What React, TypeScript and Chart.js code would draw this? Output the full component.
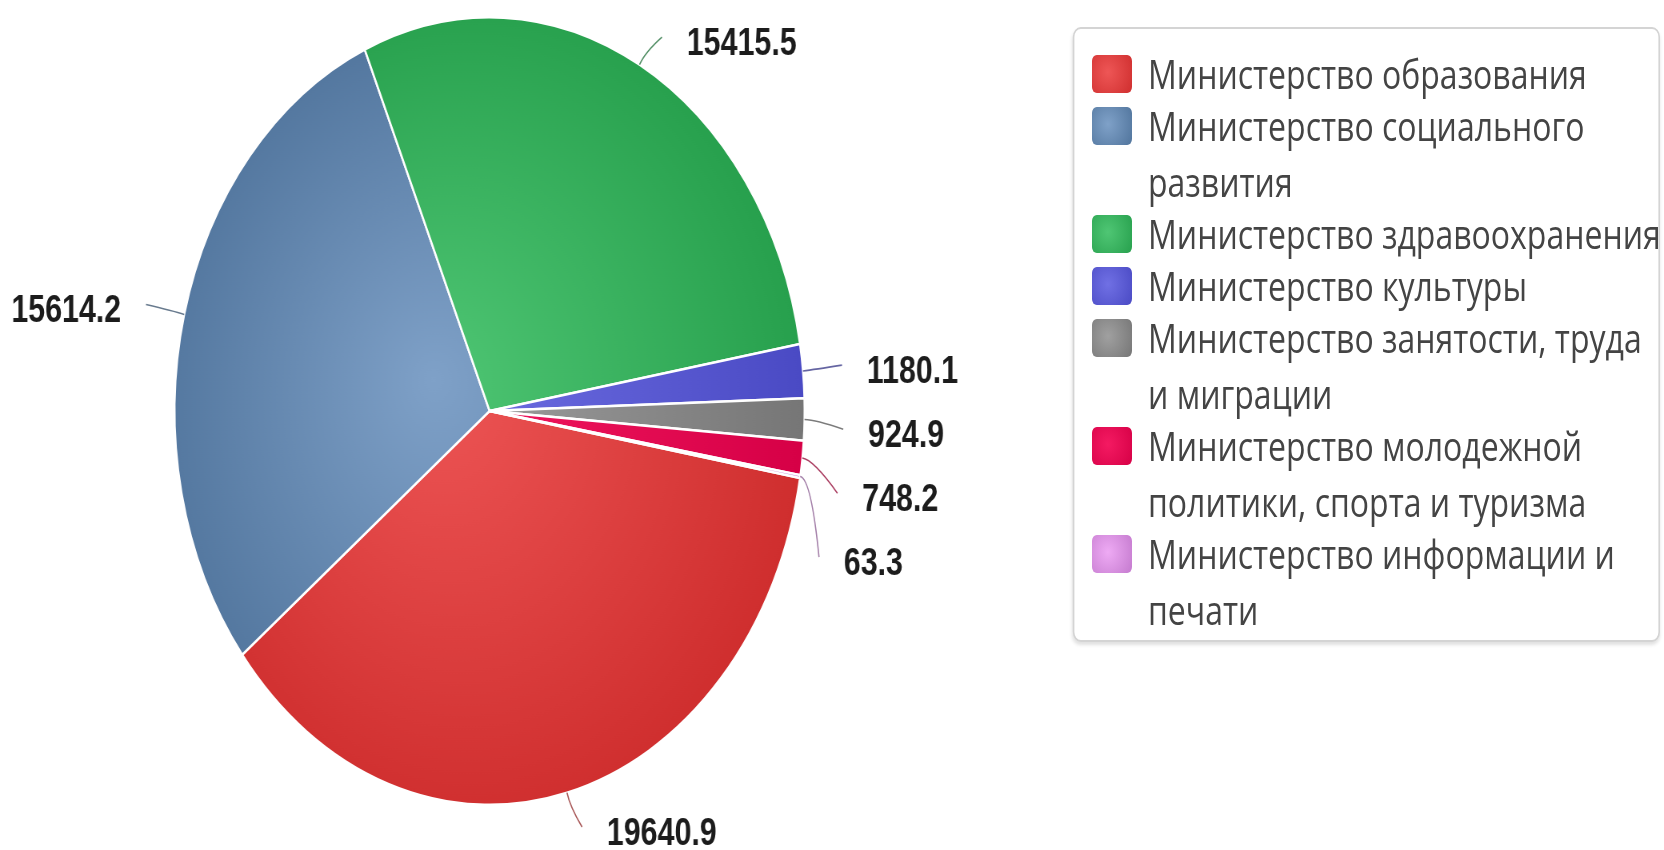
import React, { useEffect, useRef } from "react";
import { Chart, registerables } from "chart.js";

Chart.register(...registerables);

// ---- data ----
const legendLabels: string[] = [
  "Министерство образования",
  "Министерство социального\nразвития",
  "Министерство здравоохранения",
  "Министерство культуры",
  "Министерство занятости, труда\nи миграции",
  "Министерство молодежной\nполитики, спорта и туризма",
  "Министерство информации и\nпечати",
];
const categories: string[] = legendLabels.map((s) => s.replace("\n", " "));
const values: number[] = [19640.9, 15614.2, 15415.5, 1180.1, 924.9, 748.2, 63.3];
const lightColors: string[] = ["#ee5656", "#7fa1c8", "#4fc674", "#7070e4", "#a0a0a0", "#f41a62", "#eeaaf4"];
const darkColors: string[] = ["#cf2e2e", "#50749c", "#27a04d", "#4a4ac4", "#767676", "#d60046", "#c47ace"];

const SX = 0.8; // horizontal squeeze of the whole picture
const CANVAS_W = 1300;
const CANVAS_H = 850;

function mix(a: string, b: string, t: number): string {
  const pa = [1, 3, 5].map((k) => parseInt(a.slice(k, k + 2), 16));
  const pb = [1, 3, 5].map((k) => parseInt(b.slice(k, k + 2), 16));
  const m = pa.map((v, i) => Math.round(v * (1 - t) + pb[i] * t));
  return `rgb(${m[0]},${m[1]},${m[2]})`;
}

const outLabels = {
  id: "outLabels",
  afterDatasetsDraw(chart: any) {
    const meta = chart.getDatasetMeta(0);
    const ctx: CanvasRenderingContext2D = chart.ctx;
    const data = chart.data.datasets[0].data as number[];
    const items = meta.data.map((arc: any, i: number) => {
      const p = arc.getProps(["x", "y", "startAngle", "endAngle", "outerRadius"], true);
      const mid = (p.startAngle + p.endAngle) / 2;
      const cos = Math.cos(mid);
      const sin = Math.sin(mid);
      const ax = p.x + p.outerRadius * cos;
      const ay = p.y + p.outerRadius * sin;
      const D = 28 + 12 * Math.pow(Math.max(0, sin), 4);
      const idealY = p.y + (p.outerRadius + D) * sin + 4;
      return { i, cos, sin, ax, ay, idealY, labelY: idealY, right: cos >= 0 };
    });
    const gap = 64;
    const stack = (group: any[]) => {
      group.sort((a, b) => a.idealY - b.idealY);
      let prev = -Infinity;
      for (const it of group) {
        it.labelY = Math.max(it.idealY, prev + gap);
        prev = it.labelY;
      }
    };
    stack(items.filter((it: any) => it.right));
    stack(items.filter((it: any) => !it.right));

    ctx.save();
    ctx.font = "bold 38px 'Liberation Sans', Arial, sans-serif";
    ctx.textBaseline = "middle";
    for (const it of items) {
      const dir = it.right ? 1 : -1;
      const shift = it.labelY - it.idealY;
      const tx = it.ax + dir * (40 + 40 * Math.abs(it.cos)) - dir * 0.004 * shift * shift;
      const bx = it.ax + 14 * it.cos;
      const by = it.ay + 14 * it.sin;
      const ex = tx - dir * 31;
      const ey = it.labelY - 7;
      ctx.beginPath();
      ctx.moveTo(it.ax, it.ay);
      ctx.quadraticCurveTo(bx, by, ex, ey);
      ctx.strokeStyle = mix(darkColors[it.i], "#808080", 0.5);
      ctx.lineWidth = 1.6;
      ctx.stroke();
      ctx.fillStyle = "#1c1c1c";
      ctx.textAlign = it.right ? "left" : "right";
      ctx.fillText(data[it.i].toFixed(1), tx, it.labelY);
    }
    ctx.restore();
  },
};

function Legend() {
  return (
    <div
      style={{
        position: "absolute",
        left: 1341,
        top: 27,
        width: 734,
        height: 615,
        boxSizing: "border-box",
        border: "2px solid #d4d4d4",
        borderRadius: 10,
        boxShadow: "0 3px 4px rgba(0,0,0,0.12)",
        paddingTop: 17,
        fontFamily: "'Open Sans', sans-serif",
        fontSize: 40,
        color: "#444",
        background: "#fff",
      }}
    >
      {legendLabels.map((lab, i) => (
        <div
          key={i}
          style={{
            position: "relative",
            paddingLeft: 92,
            lineHeight: "56px",
            marginTop: i ? -4 : 0,
            whiteSpace: "pre",
          }}
        >
          <span
            style={{
              position: "absolute",
              left: 22,
              top: 9,
              width: 50,
              height: 38,
              borderRadius: 6,
              background: `radial-gradient(circle at 40% 45%, ${lightColors[i]} 0%, ${darkColors[i]} 100%)`,
            }}
          />
          {lab}
        </div>
      ))}
    </div>
  );
}

export default function App() {
  const ref = useRef<HTMLCanvasElement>(null);
  useEffect(() => {
    const canvas = ref.current!;
    const chart = new Chart(canvas, {
      type: "pie",
      data: {
        labels: categories,
        datasets: [
          {
            data: values,
            backgroundColor: (c: any) => {
              const ch = c.chart;
              const area = ch.chartArea;
              if (!area) return darkColors[c.dataIndex];
              const cx = (area.left + area.right) / 2;
              const cy = (area.top + area.bottom) / 2;
              const r = Math.min(area.width, area.height) / 2;
              const g = ch.ctx.createRadialGradient(cx - 0.18 * r, cy - 0.08 * r, 0, cx - 0.05 * r, cy, r * 1.05);
              g.addColorStop(0, lightColors[c.dataIndex]);
              g.addColorStop(1, darkColors[c.dataIndex]);
              return g;
            },
            borderColor: "#ffffff",
            borderWidth: 2.5,
          },
        ],
      },
      options: {
        responsive: false,
        animation: false,
        rotation: 99.8,
        layout: { padding: { top: 16, bottom: 44, left: 217, right: 293 } },
        plugins: {
          legend: { display: false },
          tooltip: { enabled: false },
        },
      },
      plugins: [outLabels],
    });
    return () => chart.destroy();
  }, []);

  return (
    <div
      style={{
        position: "absolute",
        left: 0,
        top: 0,
        width: 1664,
        height: 850,
        overflow: "hidden",
        background: "#fff",
      }}
    >
      <div
        style={{
          position: "absolute",
          left: 0,
          top: 0,
          width: 1664 / SX,
          height: 850,
          transform: `scaleX(${SX})`,
          transformOrigin: "0 0",
        }}
      >
        <canvas
          ref={ref}
          width={CANVAS_W}
          height={CANVAS_H}
          style={{ position: "absolute", left: 0, top: 0, width: CANVAS_W, height: CANVAS_H }}
        />
        <Legend />
      </div>
    </div>
  );
}
